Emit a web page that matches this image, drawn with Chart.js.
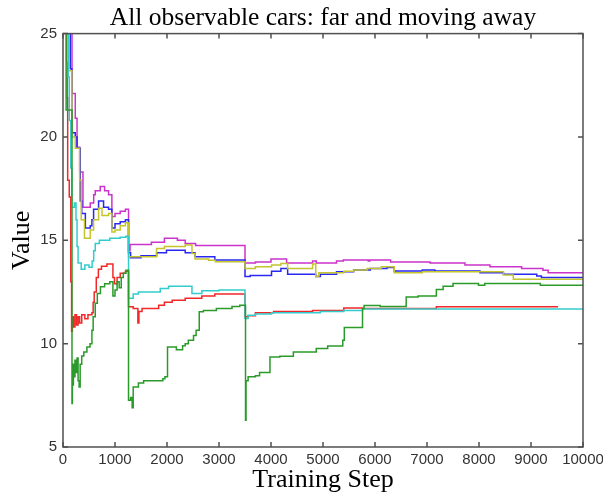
<!DOCTYPE html>
<html lang="en">
<head>
<meta charset="UTF-8">
<title>All observable cars: far and moving away</title>
<script src="https://cdn.jsdelivr.net/npm/chart.js@4.4.1/dist/chart.umd.min.js"></script>
<style>
html, body { margin: 0; padding: 0; background: #fff; }
#chart { display: block; }
</style>
</head>
<body>
<canvas id="chart" width="603" height="498"></canvas>
<script>
// [training step, value] - each value holds until the next step
var magentaSteps = [[0,30],[173,22.1],[236,20.9],[270,19.5],[320,18.3],[384,16.6],[524,16.8],[590,17.2],[620,17.4],[716,17.6],[800,17.4],[876,17.2],[940,16.15],[1000,16.3],[1100,16.4],[1200,16.5],[1260,14.5],[1290,14.8],[1700,14.9],[1950,15.1],[2200,15.0],[2350,14.85],[2550,14.75],[3500,13.9],[3700,13.95],[4000,14.1],[4300,13.9],[4800,14.0],[4870,13.9],[5260,14.0],[5390,14.05],[5870,14.0],[5900,14.05],[6300,13.95],[7060,13.9],[7730,13.8],[8210,13.72],[8820,13.64],[9230,13.55],[9330,13.43],[10000,13.43]];
var blueSteps = [[0,30],[140,23.3],[170,20.2],[236,20.0],[270,19.45],[332,16.9],[360,16.3],[430,15.6],[524,15.7],[556,16.0],[588,16.5],[684,16.9],[780,16.6],[876,16.5],[940,15.6],[1000,15.8],[1100,15.9],[1200,16.0],[1260,14.4],[1300,14.15],[1500,14.25],[1800,14.4],[1990,14.52],[2350,14.4],[2540,14.2],[2920,14.05],[3500,13.25],[3600,13.3],[4010,13.5],[4190,13.64],[4320,13.36],[4860,13.25],[4950,13.36],[5260,13.48],[5590,13.56],[5910,13.64],[6230,13.69],[6370,13.51],[6910,13.56],[7150,13.52],[8020,13.43],[8470,13.36],[9110,13.27],[9200,13.2],[10000,13.2]];
var yellowSteps = [[0,30],[108,23.2],[170,20.0],[236,19.45],[320,17.9],[350,16.0],[413,15.1],[524,15.5],[588,16.0],[684,16.55],[750,16.2],[876,16.3],[940,15.4],[1000,15.5],[1100,15.7],[1200,15.85],[1260,14.2],[1800,14.6],[1950,14.7],[2350,14.77],[2480,14.36],[2540,14.1],[2800,14.04],[2930,13.96],[3500,13.64],[3700,13.72],[4010,13.8],[4190,13.88],[4320,13.64],[4800,13.85],[4860,13.25],[4920,13.43],[5400,13.5],[5590,13.56],[5850,13.64],[6120,13.72],[6370,13.43],[6910,13.48],[8470,13.32],[8660,13.12],[10000,13.12]];
var cyanSteps = [[0,30],[100,22.9],[120,20.8],[150,18.5],[170,16.6],[220,16.8],[250,16.0],[270,14.7],[290,13.9],[350,13.6],[420,13.8],[500,13.7],[560,14.0],[590,14.5],[620,14.85],[700,15.0],[900,15.1],[1100,15.15],[1210,15.2],[1260,12.2],[1350,12.4],[1450,12.5],[1870,12.67],[2030,12.78],[2480,12.43],[2670,12.56],[3000,12.6],[3500,11.22],[3560,11.38],[3700,11.44],[4010,11.5],[4950,11.55],[5400,11.6],[5760,11.68],[10000,11.68]];
var redSteps = [[0,30],[70,23.6],[80,21.9],[90,17.9],[120,17.1],[150,13.0],[165,10.6],[180,11.3],[200,10.8],[230,11.4],[260,10.9],[290,11.3],[320,11.0],[360,11.4],[420,11.2],[480,11.4],[556,11.5],[580,12.0],[600,12.5],[640,13.2],[680,13.6],[740,13.75],[844,13.85],[960,13.2],[990,12.9],[1040,13.2],[1100,13.4],[1200,13.5],[1260,11.78],[1350,11.7],[1440,11.0],[1460,11.55],[1520,11.7],[1840,11.86],[1950,12.0],[2100,12.1],[2350,12.2],[2670,12.3],[2920,12.4],[3500,11.3],[3560,11.35],[3700,11.5],[4050,11.55],[4800,11.6],[5400,11.72],[5760,11.7],[7180,11.78],[9520,11.78]];
var greenSteps = [[0,30],[60,21.3],[173,7.1],[180,8.6],[190,8.0],[200,9.0],[215,8.4],[230,9.2],[250,8.6],[270,9.3],[290,8.2],[310,7.9],[330,9.0],[360,9.4],[400,9.6],[460,9.84],[520,10.0],[556,10.65],[580,11.3],[620,11.95],[660,12.43],[720,12.75],[800,12.9],[900,13.0],[960,12.3],[1000,12.6],[1040,13.0],[1080,12.7],[1120,13.2],[1160,13.4],[1210,13.55],[1260,7.26],[1300,7.4],[1330,6.9],[1350,7.9],[1450,8.1],[1550,8.2],[1920,8.3],[1960,8.4],[2010,9.84],[2180,9.7],[2300,9.9],[2350,10.0],[2410,10.17],[2510,10.4],[2560,10.65],[2620,11.54],[2700,11.6],[2950,11.7],[3250,11.8],[3400,11.86],[3510,6.29],[3520,8.2],[3560,8.4],[3700,8.45],[3780,8.6],[3980,9.36],[4170,9.39],[4430,9.6],[4870,9.76],[5090,9.89],[5380,10.17],[5410,10.78],[5760,11.7],[5790,11.85],[6100,11.8],[6600,12.26],[6830,12.3],[7180,12.62],[7310,12.78],[7500,12.91],[7990,12.83],[8110,12.91],[9180,12.83],[10000,12.83]];

var xTicks = [0,1000,2000,3000,4000,5000,6000,7000,8000,9000,10000];
var yTicks = [5,10,15,20,25];

function toPoints(steps) {
  return steps.map(function(s) { return {x: s[0], y: s[1]}; });
}

function line(steps, color) {
  return {
    data: toPoints(steps),
    borderColor: color,
    borderWidth: 1.5,
    pointRadius: 0,
    stepped: true,
    fill: false
  };
}

// box round the plot and the inward tick marks
var boxPlugin = {
  id: 'box',
  afterDatasetsDraw: function(chart) {
    var ctx = chart.ctx, a = chart.chartArea;
    var sx = chart.scales.x, sy = chart.scales.y;
    ctx.save();
    ctx.strokeStyle = '#505050';
    ctx.lineWidth = 1.5;
    ctx.strokeRect(a.left, a.top, a.right - a.left, a.bottom - a.top);
    ctx.beginPath();
    xTicks.forEach(function(v) {
      var px = sx.getPixelForValue(v);
      ctx.moveTo(px, a.bottom); ctx.lineTo(px, a.bottom - 5);
      ctx.moveTo(px, a.top); ctx.lineTo(px, a.top + 5);
    });
    yTicks.forEach(function(v) {
      var py = sy.getPixelForValue(v);
      ctx.moveTo(a.left, py); ctx.lineTo(a.left + 5, py);
      ctx.moveTo(a.right, py); ctx.lineTo(a.right - 5, py);
    });
    ctx.stroke();
    ctx.restore();
  }
};

var tickFont = {family: '"Liberation Sans", Arial, sans-serif', size: 15};
var serifFont = {family: '"Liberation Serif", "Times New Roman", serif', size: 26, weight: 'normal'};
var titleFont = {family: '"Liberation Serif", "Times New Roman", serif', size: 25.5, weight: 'normal'};
var plain = function(v) { return String(v); };

new Chart(document.getElementById('chart'), {
  type: 'line',
  data: {
    // first dataset is drawn on top
    datasets: [
      line(greenSteps, '#2a9a2a'),
      line(cyanSteps, '#33cccc'),
      line(redSteps, '#f02828'),
      line(yellowSteps, '#c4c42c'),
      line(blueSteps, '#2828f0'),
      line(magentaSteps, '#cc33cc')
    ]
  },
  options: {
    responsive: false,
    animation: false,
    layout: {padding: {left: 0, right: 20, top: 0, bottom: 0}},
    plugins: {
      legend: {display: false},
      tooltip: {enabled: false},
      title: {
        display: true,
        fullSize: false,
        text: 'All observable cars: far and moving away',
        color: '#000',
        font: titleFont,
        padding: {top: 3, bottom: 0}
      }
    },
    scales: {
      x: {
        type: 'linear',
        min: 0,
        max: 10000,
        afterBuildTicks: function(s) { s.ticks = xTicks.map(function(v) { return {value: v}; }); },
        ticks: {font: tickFont, color: '#333', padding: 4, maxRotation: 0, autoSkip: false, callback: plain},
        grid: {display: false, drawTicks: false},
        border: {display: false},
        title: {display: true, text: 'Training Step', color: '#000', font: serifFont, padding: {top: 0, bottom: 2}},
        afterFit: function(s) { s.height = 51; s.paddingLeft = 0; s.paddingRight = 0; }
      },
      y: {
        type: 'linear',
        min: 5,
        max: 25,
        afterBuildTicks: function(s) { s.ticks = yTicks.map(function(v) { return {value: v}; }); },
        ticks: {font: tickFont, color: '#333', padding: 6, callback: plain},
        grid: {display: false, drawTicks: false},
        border: {display: false},
        title: {display: true, text: 'Value', color: '#000', font: serifFont, padding: {top: 7, bottom: 0}},
        afterFit: function(s) { s.width = 63; s.paddingTop = 0; s.paddingBottom = 0; }
      }
    }
  },
  plugins: [boxPlugin]
});
</script>
</body>
</html>
